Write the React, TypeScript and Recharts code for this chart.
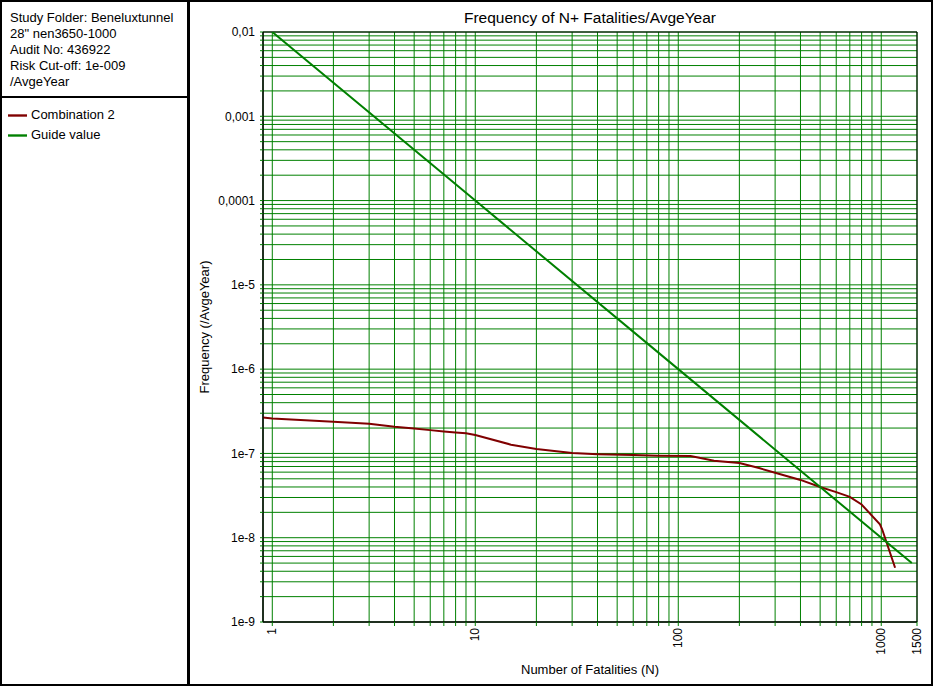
import React from "react";
import { LineChart, Line, XAxis, YAxis, CartesianGrid, ReferenceArea, Legend } from "recharts";

const GREEN = "#008000";
const RED = "#800000";
const FONT = '"Liberation Sans", Arial, sans-serif';

const infoLines = [
  "Study Folder: Beneluxtunnel",
  '28" nen3650-1000',
  "Audit No: 436922",
  "Risk Cut-off: 1e-009",
  "/AvgeYear",
];

// N+ frequency curve
const combination = [
  { n: 0.9, f: 2.67e-7 },
  { n: 1, f: 2.6e-7 },
  { n: 2, f: 2.38e-7 },
  { n: 3, f: 2.25e-7 },
  { n: 4, f: 2.07e-7 },
  { n: 5, f: 1.98e-7 },
  { n: 6, f: 1.89e-7 },
  { n: 7, f: 1.82e-7 },
  { n: 8, f: 1.77e-7 },
  { n: 9, f: 1.73e-7 },
  { n: 10, f: 1.65e-7 },
  { n: 15, f: 1.27e-7 },
  { n: 20, f: 1.13e-7 },
  { n: 30, f: 1.01e-7 },
  { n: 40, f: 9.8e-8 },
  { n: 60, f: 9.55e-8 },
  { n: 80, f: 9.4e-8 },
  { n: 115, f: 9.3e-8 },
  { n: 150, f: 8.2e-8 },
  { n: 200, f: 7.7e-8 },
  { n: 250, f: 6.7e-8 },
  { n: 300, f: 5.9e-8 },
  { n: 400, f: 4.85e-8 },
  { n: 500, f: 4.0e-8 },
  { n: 600, f: 3.47e-8 },
  { n: 700, f: 3.05e-8 },
  { n: 800, f: 2.48e-8 },
  { n: 985, f: 1.44e-8 },
  { n: 1010, f: 1.26e-8 },
  { n: 1170, f: 4.4e-9 },
];

const guide = [
  { n: 1, f: 1e-2 },
  { n: 10, f: 1e-4 },
  { n: 100, f: 1e-6 },
  { n: 1000, f: 1e-8 },
  { n: 1414, f: 5e-9 },
];

const mantissas = [1, 2, 3, 4, 5, 6, 7, 8, 9];

const xDecades = [1, 10, 100, 1000];
const xLabelled = [1, 10, 100, 1000, 1500];
const xTickLabels = ["1", "10", "100", "1000", "1500"];
const xTicks = [...xDecades.flatMap((d) => mantissas.map((m) => m * d)).filter((v) => v <= 1000), 1500];

const yDecades = [1e-9, 1e-8, 1e-7, 1e-6, 1e-5, 1e-4, 1e-3, 1e-2];
const yTickLabels = ["1e-9", "1e-8", "1e-7", "1e-6", "1e-5", "0,0001", "0,001", "0,01"];
const yTicks = yDecades.flatMap((d) => mantissas.map((m) => m * d)).filter((v) => v <= 1.0000001e-2);

const yLabel = (v: number) => {
  const i = yDecades.indexOf(v);
  return i >= 0 ? yTickLabels[i] : "";
};

function XTick(props: any) {
  const { x, y, payload } = props;
  const i = xLabelled.indexOf(payload.value);
  if (i < 0) return <g />;
  return (
    <text
      x={0}
      y={0}
      transform={`translate(${x},${y}) rotate(-90)`}
      textAnchor="end"
      dy="0.35em"
      fontSize={12}
      fill="#000"
    >
      {xTickLabels[i]}
    </text>
  );
}

export default function App() {
  return (
    <div style={{ position: "absolute", left: 0, top: 0, width: 933, height: 686, fontFamily: FONT, background: "#fff" }}>
      <div style={{ position: "absolute", left: 10, top: 10, fontSize: 13, lineHeight: "16px", color: "#000" }}>
        {infoLines.map((t) => (
          <div key={t} style={{ whiteSpace: "nowrap" }}>{t}</div>
        ))}
      </div>

      <LineChart width={933} height={686} margin={{ top: 32, right: 16, bottom: 0, left: 188 }} style={{ fontFamily: FONT }}>
        <CartesianGrid stroke={GREEN} strokeWidth={1} />
        <XAxis
          dataKey="n"
          type="number"
          scale="log"
          domain={[0.9, 1500]}
          allowDataOverflow
          ticks={xTicks}
          interval={0}
          height={64}
          tickSize={4}
          tickMargin={2}
          tickLine={{ stroke: GREEN }}
          axisLine={{ stroke: "#000" }}
          tick={<XTick />}
          label={(p: any) => {
            const vb = p.viewBox;
            return (
              <text x={vb.x + vb.width / 2} y={vb.y + 52} textAnchor="middle" fontSize={13} fill="#000">
                Number of Fatalities (N)
              </text>
            );
          }}
        />
        <YAxis
          type="number"
          scale="log"
          domain={[1e-9, 1e-2]}
          allowDataOverflow
          ticks={yTicks}
          interval={0}
          width={75}
          tickSize={3}
          tickMargin={5}
          tickLine={{ stroke: GREEN }}
          axisLine={{ stroke: "#000" }}
          tick={{ fontSize: 12, fill: "#000" }}
          tickFormatter={yLabel}
          label={(p: any) => {
            const vb = p.viewBox;
            const cx = vb.x + 16.5;
            const cy = vb.y + vb.height / 2;
            return (
              <text
                x={cx}
                y={cy}
                transform={`rotate(-90, ${cx}, ${cy})`}
                textAnchor="middle"
                dy="0.35em"
                fontSize={13}
                fill="#000"
              >
                Frequency (/AvgeYear)
              </text>
            );
          }}
        />
        <ReferenceArea
          x1={0.9}
          x2={1500}
          y1={1e-9}
          y2={1e-2}
          fill="none"
          fillOpacity={0}
          stroke="#000"
          strokeWidth={1}
          ifOverflow="visible"
          label={{ value: "Frequency of N+ Fatalities/AvgeYear", position: "top", offset: 9, fontSize: 15.5, fill: "#000" }}
        />
        <Line
          data={combination}
          dataKey="f"
          name="Combination 2"
          type="linear"
          stroke={RED}
          strokeWidth={2}
          dot={false}
          activeDot={false}
          isAnimationActive={false}
        />
        <Line
          data={guide}
          dataKey="f"
          name="Guide value"
          type="linear"
          stroke={GREEN}
          strokeWidth={2}
          dot={false}
          activeDot={false}
          isAnimationActive={false}
        />
        <Legend
          layout="vertical"
          align="center"
          verticalAlign="middle"
          iconType="plainline"
          iconSize={19}
          wrapperStyle={{ left: 8, top: 105, width: 170, fontSize: 13, lineHeight: "19px" }}
          formatter={(v: any) => <span style={{ color: "#000" }}>{v}</span>}
        />
      </LineChart>

      <div style={{ position: "absolute", left: 0, top: 0, width: 188, height: 686, border: "2px solid #000", borderRightWidth: 1, boxSizing: "border-box", pointerEvents: "none" }} />
      <div style={{ position: "absolute", left: 0, top: 96, width: 188, height: 2, background: "#000", pointerEvents: "none" }} />
      <div style={{ position: "absolute", left: 188, top: 0, width: 745, height: 686, border: "2px solid #000", boxSizing: "border-box", pointerEvents: "none" }} />
    </div>
  );
}
